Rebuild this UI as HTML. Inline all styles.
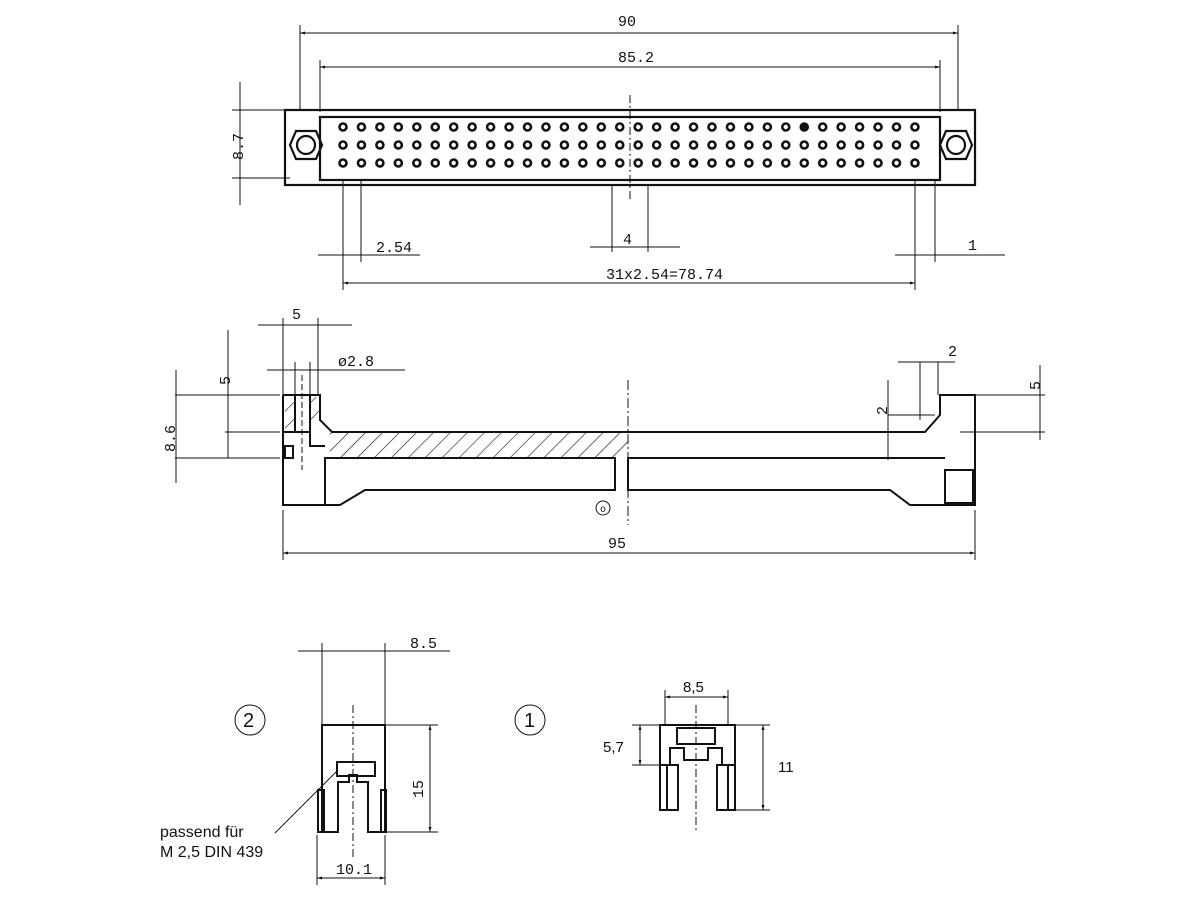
<!DOCTYPE html>
<html><head><meta charset="utf-8"><style>
body{margin:0;background:#fff}
svg{display:block}
text{font-family:"Liberation Mono",monospace;font-size:15px;fill:#111}
.s{font-family:"Liberation Sans",sans-serif}
</style></head><body>
<svg width="1200" height="900" viewBox="0 0 1200 900" xmlns="http://www.w3.org/2000/svg">
<defs>
<pattern id="h" width="12" height="12" patternUnits="userSpaceOnUse" patternTransform="rotate(45)">
<line x1="0" y1="0" x2="0" y2="12" stroke="#111" stroke-width="1.2"/></pattern>
<marker id="a" viewBox="0 0 10 10" refX="10" refY="5" markerWidth="7" markerHeight="5" orient="auto-start-reverse"><path d="M0,2 L10,5 L0,8z" fill="#111"/></marker>
</defs>
<g stroke="#111" fill="none" stroke-width="1">
<line x1="300" y1="25" x2="300" y2="110"/><line x1="958" y1="25" x2="958" y2="110"/>
<line x1="300" y1="33" x2="958" y2="33" marker-start="url(#a)" marker-end="url(#a)"/>
<line x1="320" y1="60" x2="320" y2="112"/><line x1="940" y1="60" x2="940" y2="112"/>
<line x1="320" y1="67" x2="940" y2="67" marker-start="url(#a)" marker-end="url(#a)"/>
<line x1="232" y1="110" x2="290" y2="110"/><line x1="232" y1="178" x2="290" y2="178"/>
<line x1="240" y1="82" x2="240" y2="205" />
<line x1="343" y1="180" x2="343" y2="290"/><line x1="361" y1="180" x2="361" y2="262"/>
<line x1="318" y1="255" x2="420" y2="255"/>
<line x1="612" y1="185" x2="612" y2="252"/><line x1="648" y1="185" x2="648" y2="252"/>
<line x1="590" y1="247" x2="680" y2="247"/>
<line x1="915" y1="180" x2="915" y2="290"/><line x1="935" y1="180" x2="935" y2="262"/>
<line x1="895" y1="255" x2="1005" y2="255"/>
<line x1="343" y1="283" x2="915" y2="283" marker-start="url(#a)" marker-end="url(#a)"/>
<line x1="630" y1="95" x2="630" y2="200" stroke-dasharray="8,3,2,3"/>
</g>
<g stroke="#111" fill="none" stroke-width="2.2">
<rect x="285" y="110" width="690" height="75"/>
<rect x="320" y="117" width="620" height="63"/>
<polygon points="290,145 296,131 316,131 322,145 316,159 296,159"/>
<circle cx="306" cy="145" r="9"/>
<polygon points="940,145 946,131 966,131 972,145 966,159 946,159"/>
<circle cx="956" cy="145" r="9"/>
</g>
<!-- side view -->
<g stroke="#111" fill="none" stroke-width="1">
<line x1="283" y1="318" x2="283" y2="395"/><line x1="318" y1="318" x2="318" y2="395"/>
<line x1="258" y1="325" x2="352" y2="325"/>
<line x1="267" y1="370" x2="405" y2="370"/>
<line x1="295" y1="362" x2="295" y2="395"/><line x1="310" y1="362" x2="310" y2="395"/>
<line x1="175" y1="395" x2="280" y2="395"/><line x1="225" y1="432" x2="280" y2="432"/><line x1="175" y1="458" x2="280" y2="458"/>
<line x1="228" y1="330" x2="228" y2="458"/>
<line x1="176" y1="370" x2="176" y2="483"/>
<line x1="283" y1="510" x2="283" y2="560"/><line x1="975" y1="510" x2="975" y2="560"/>
<line x1="283" y1="553" x2="975" y2="553" marker-start="url(#a)" marker-end="url(#a)"/>
<line x1="628" y1="380" x2="628" y2="525" stroke-dasharray="10,3,2,3"/>
<line x1="302" y1="375" x2="302" y2="470" stroke-dasharray="6,3"/>
<line x1="898" y1="362" x2="955" y2="362"/><line x1="920" y1="362" x2="920" y2="420"/><line x1="938" y1="362" x2="938" y2="395"/>
<line x1="888" y1="380" x2="888" y2="460"/>
<line x1="888" y1="415" x2="935" y2="415"/>
<line x1="975" y1="395" x2="1045" y2="395"/><line x1="960" y1="432" x2="1045" y2="432"/>
<line x1="1040" y1="365" x2="1040" y2="440"/>
<circle cx="603" cy="508" r="7"/>
</g>
<rect x="330" y="432" width="298" height="26" fill="url(#h)"/>
<rect x="285" y="397" width="10" height="33" fill="url(#h)"/>
<rect x="310" y="397" width="9" height="23" fill="url(#h)"/>
<g stroke="#111" fill="none" stroke-width="2">
<path d="M283,395 H320 V420 L332,432 H925 L940,415 V395 H975 V505 H910 L890,490 H628 V458 H945"/>
<path d="M283,395 V505 H340 L365,490 H615 V458 H325 V505"/>
<path d="M295,395 V432 M310,395 V446 H325 M283,432 H310"/>
<rect x="285" y="446" width="8" height="12"/>
<rect x="945" y="470" width="28" height="33"/>
</g>
<!-- piece 2 -->
<g stroke="#111" fill="none" stroke-width="1">
<line x1="322" y1="643" x2="322" y2="725"/><line x1="385" y1="643" x2="385" y2="725"/>
<line x1="298" y1="651" x2="450" y2="651"/>
<line x1="385" y1="725" x2="438" y2="725"/><line x1="385" y1="832" x2="438" y2="832"/>
<line x1="430" y1="725" x2="430" y2="832" marker-start="url(#a)" marker-end="url(#a)"/>
<line x1="317" y1="835" x2="317" y2="885"/><line x1="385" y1="835" x2="385" y2="885"/>
<line x1="317" y1="878" x2="385" y2="878" marker-start="url(#a)" marker-end="url(#a)"/>
<line x1="353" y1="705" x2="353" y2="860" stroke-dasharray="8,3,2,3"/>
<line x1="275" y1="833" x2="338" y2="770"/>
<circle cx="250" cy="720" r="15"/>
<circle cx="530" cy="720" r="15"/>
</g>
<g stroke="#111" fill="none" stroke-width="2">
<path d="M322,725 H385 V832 H368 V782 H357 V775 H349 V782 H338 V832 H322 Z"/>
<rect x="337" y="762" width="38" height="14"/>
<rect x="318" y="790" width="6" height="42"/>
<rect x="381" y="790" width="5" height="42"/>
</g>
<!-- piece 1 -->
<g stroke="#111" fill="none" stroke-width="1">
<line x1="665" y1="690" x2="665" y2="725"/><line x1="728" y1="690" x2="728" y2="725"/>
<line x1="665" y1="697" x2="728" y2="697" marker-start="url(#a)" marker-end="url(#a)"/>
<line x1="632" y1="725" x2="770" y2="725"/><line x1="632" y1="765" x2="660" y2="765"/>
<line x1="735" y1="810" x2="770" y2="810"/>
<line x1="640" y1="725" x2="640" y2="765" marker-start="url(#a)" marker-end="url(#a)"/>
<line x1="763" y1="725" x2="763" y2="810" marker-start="url(#a)" marker-end="url(#a)"/>
<line x1="696" y1="705" x2="696" y2="830" stroke-dasharray="8,3,2,3"/>
</g>
<g stroke="#111" fill="none" stroke-width="2">
<path d="M660,725 H735 V765 H722 V748 H708 V760 H684 V748 H670 V765 H660 Z"/>
<rect x="660" y="765" width="18" height="45"/><rect x="717" y="765" width="18" height="45"/>
<rect x="677" y="728" width="38" height="16"/>
<line x1="667" y1="765" x2="667" y2="810"/><line x1="728" y1="765" x2="728" y2="810"/>
</g>
<text x="618" y="26">90</text>
<text x="618" y="62">85.2</text>
<text x="233" y="170" transform="rotate(-90 233 160)">8.7</text>
<text x="376" y="252">2.54</text>
<text x="623" y="244">4</text>
<text x="968" y="250">1</text>
<text x="606" y="279">31x2.54=78.74</text>
<text x="292" y="319">5</text>
<text x="338" y="366">ø2.8</text>
<text x="222" y="385" transform="rotate(-90 226 381)">5</text>
<text x="163" y="450" transform="rotate(-90 170 445)">8.6</text>
<text x="948" y="356">2</text>
<text x="877" y="415" transform="rotate(-90 882 410)">2</text>
<text x="1030" y="390" transform="rotate(-90 1035 385)">5</text>
<text x="600" y="512" style="font-size:10px">o</text>
<text x="608" y="548">95</text>
<text x="410" y="648">8.5</text>
<text x="410" y="795" transform="rotate(-90 418 790)">15</text>
<text x="336" y="874">10.1</text>
<text x="243" y="727" class="s" style="font-size:20px">2</text>
<text x="524" y="727" class="s" style="font-size:20px">1</text>
<text x="683" y="692" class="s">8,5</text>
<text x="603" y="752" class="s">5,7</text>
<text x="778" y="772" class="s">11</text>
<text x="160" y="837" class="s" style="font-size:16px">passend für</text>
<text x="160" y="857" class="s" style="font-size:16px">M 2,5 DIN 439</text>
<g stroke="#111" stroke-width="2.6" fill="#fff" id="g2">
<circle cx="343" cy="127" r="3.5"/><circle cx="343" cy="145" r="3.5"/><circle cx="343" cy="163" r="3.5"/>
</g>
</svg>
<script>
var g=document.getElementById('g2');
for(var c=1;c<32;c++){for(var r=0;r<3;r++){
var e=document.createElementNS('http://www.w3.org/2000/svg','circle');
e.setAttribute('cx',343+c*18.45);e.setAttribute('cy',127+r*18);e.setAttribute('r',3.5);
if(c==25&&r==0)e.setAttribute('fill','#111');g.appendChild(e);}}
</script>
</body></html>
